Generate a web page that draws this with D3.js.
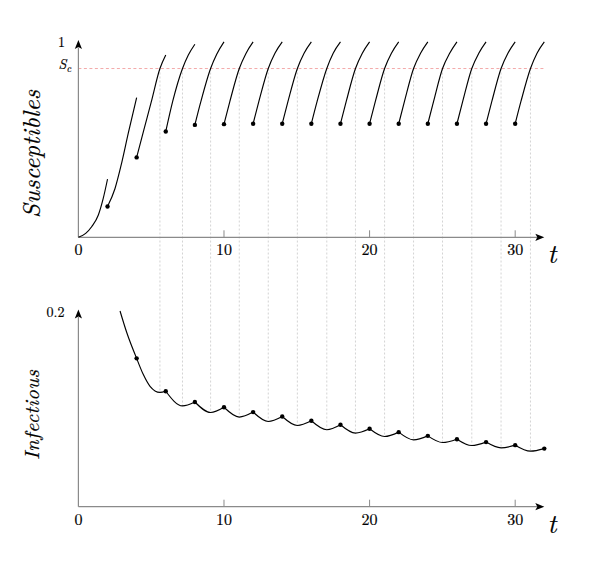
<!DOCTYPE html>
<html><head><meta charset="utf-8">
<script src="https://cdn.jsdelivr.net/npm/d3@7"></script>
<style>body{margin:0;background:#fff}svg{display:block}text{stroke:#000;stroke-width:0.2px}</style>
</head><body>
<svg id="c" width="601" height="569"></svg>
<script>
// ---------- data ----------
const xTicks = [0, 10, 20, 30];
const xMax = 32;
const sMax = 1;
const iMax = 0.2;
const Sc = 0.862;

// Susceptibles: continuous pieces between pulses, [t, S]
const sSegments = [
  [[0,0],[0.5,0.02],[0.91,0.054],[1.37,0.114],[1.71,0.2],[2,0.297]],
  [[2,0.157],[2.51,0.248],[2.97,0.379],[3.43,0.533],[4,0.713]],
  [[4,0.408],[4.5,0.55],[5,0.69],[5.6,0.862],[6,0.931]],
  [[6,0.54],[6.48,0.695],[7.15,0.862],[7.55,0.931],[8,0.986]],
  [[8,0.574],[8.4,0.69],[9.08,0.862],[9.5,0.935],[10,0.998]],
  [[10,0.578],[10.4,0.693],[11.05,0.862],[11.5,0.938],[12,0.998]],
  [[12,0.58],[12.4,0.695],[13.04,0.862],[13.5,0.94],[14,0.998]],
  [[14,0.58],[14.4,0.695],[15.04,0.862],[15.5,0.94],[16,0.998]],
  [[16,0.58],[16.4,0.695],[17.06,0.862],[17.5,0.94],[18,0.998]],
  [[18,0.58],[18.4,0.695],[19.03,0.862],[19.5,0.94],[20,0.998]],
  [[20,0.58],[20.4,0.695],[21.03,0.862],[21.5,0.94],[22,0.998]],
  [[22,0.58],[22.4,0.695],[23.02,0.862],[23.5,0.94],[24,0.998]],
  [[24,0.58],[24.4,0.695],[25.01,0.862],[25.5,0.94],[26,0.998]],
  [[26,0.58],[26.4,0.695],[27.02,0.862],[27.5,0.94],[28,0.998]],
  [[28,0.58],[28.4,0.695],[29.03,0.862],[29.5,0.94],[30,0.998]],
  [[30,0.58],[30.4,0.695],[31.05,0.862],[31.5,0.94],[32,0.998]]
];

// Infectious: values at pulse times, at minima (S = Sc) and a few extra points
const iDots = [[4,0.1516],[6,0.118],[8,0.107],[10,0.1016],[12,0.0967],[14,0.0922],
  [16,0.0878],[18,0.0837],[20,0.0796],[22,0.0762],[24,0.0724],[26,0.069],[28,0.066],
  [30,0.0629],[32,0.0594]];
const iMins = [[5.6,0.1168],[7.15,0.103],[9.08,0.0963],[11.05,0.0916],[13.04,0.0871],
  [15.04,0.083],[17.06,0.0786],[19.03,0.0752],[21.03,0.0717],[23.02,0.0683],
  [25.01,0.0656],[27.02,0.0625],[29.03,0.0601],[31.05,0.0568]];
const iExtra = [[2.86,0.2],[3.32,0.178],[4.46,0.135],[4.92,0.123]];

// ---------- drawing ----------
const svg = d3.select("#c");
svg.append("rect").attr("width",601).attr("height",569).attr("fill","#fff");

const x = d3.scaleLinear().domain([0, xMax]).range([78.4, 544.3]);
const yS = d3.scaleLinear().domain([0, sMax]).range([237.3, 41.5]);
const yI = d3.scaleLinear().domain([0, iMax]).range([506.7, 311]);

const axisColor = "#8a8a8a";
const serif = "'Latin Modern Roman','CMU Serif','Liberation Serif',serif";

// vertical guides from Sc (top) to I minima (bottom)
svg.append("g").selectAll("line").data(iMins).join("line")
  .attr("x1", d => x(d[0])).attr("x2", d => x(d[0]))
  .attr("y1", yS(Sc)).attr("y2", d => yI(d[1]))
  .attr("stroke", "#c8c8c8").attr("stroke-width", 0.8)
  .attr("stroke-dasharray", "2,2");

// Sc line
svg.append("line")
  .attr("x1", x(0)).attr("x2", x(xMax)).attr("y1", yS(Sc)).attr("y2", yS(Sc))
  .attr("stroke", "#f2a0a0").attr("stroke-width", 0.9).attr("stroke-dasharray", "3,2.5");

function drawAxes(yScale, yTop, yLabel, yLabelText, tBaseline) {
  const y0 = yScale(0);
  const g = svg.append("g");
  const xEnd = x(xMax);
  g.append("line").attr("x1", x(0)).attr("x2", xEnd - 7).attr("y1", y0).attr("y2", y0)
    .attr("stroke", axisColor).attr("stroke-width", 1.2);
  g.append("line").attr("x1", x(0)).attr("x2", x(0)).attr("y1", y0).attr("y2", yTop + 6)
    .attr("stroke", axisColor).attr("stroke-width", 1.2);
  // arrowheads
  g.append("path")
    .attr("d", `M${xEnd},${y0} L${xEnd-9},${y0-3.6} L${xEnd-7},${y0} L${xEnd-9},${y0+3.6} Z`)
    .attr("fill", "#000");
  const xa = x(0);
  g.append("path")
    .attr("d", `M${xa},${yTop-1.5} L${xa-3.6},${yTop+7.5} L${xa},${yTop+5.5} L${xa+3.6},${yTop+7.5} Z`)
    .attr("fill", "#000");
  // ticks
  g.selectAll("line.tk").data(xTicks.filter(d => d !== 0)).join("line").attr("class","tk")
    .attr("x1", d => x(d)).attr("x2", d => x(d)).attr("y1", y0).attr("y2", y0 - 7)
    .attr("stroke", axisColor).attr("stroke-width", 1);
  g.selectAll("text.tl").data(xTicks).join("text").attr("class","tl")
    .attr("x", d => x(d)).attr("y", y0 + 18)
    .attr("text-anchor", "middle").style("font-family", serif).attr("font-size", 16)
    .text(d => d);
  // t label
  g.append("text").attr("x", 552).attr("y", tBaseline).attr("text-anchor","middle")
    .style("font-family", serif).attr("font-style","italic").attr("font-size", 27).text("t");
  // y title
  g.append("text")
    .attr("transform", `translate(${yLabel.x},${yLabel.y}) rotate(-90)`)
    .attr("text-anchor","middle").style("font-family", serif).attr("font-style","italic")
    .attr("font-size", yLabel.size).attr("textLength", yLabel.len).attr("lengthAdjust","spacing")
    .text(yLabelText);
}

drawAxes(yS, yS(sMax), {x: 40, y: 154, size: 24.5, len: 128}, "Susceptibles", 263);
drawAxes(yI, yI(iMax), {x: 39, y: 415, size: 20.5, len: 90}, "Infectious", 533);

// y tick labels
svg.append("text").attr("x", 65).attr("y", yS(1) + 5.5).attr("text-anchor","end")
  .style("font-family", serif).attr("font-size", 14).text("1");
const scT = svg.append("text").attr("x", 71).attr("y", yS(Sc) + 0.5).attr("text-anchor","end")
  .style("font-family", serif).attr("font-style","italic").attr("font-size", 14);
scT.append("tspan").text("S");
scT.append("tspan").attr("font-size", 10).attr("dy", 2.5).text("c");
svg.append("text").attr("x", 64.5).attr("y", yI(iMax) + 5.5).attr("text-anchor","end")
  .style("font-family", serif).attr("font-size", 14).text("0.2");

// S curves
const lineS = d3.line().x(d => x(d[0])).y(d => yS(d[1])).curve(d3.curveMonotoneX);
svg.append("g").selectAll("path").data(sSegments).join("path")
  .attr("d", lineS).attr("fill","none").attr("stroke","#000").attr("stroke-width",1.15);
svg.append("g").selectAll("circle").data(sSegments.slice(1).map(s => s[0])).join("circle")
  .attr("cx", d => x(d[0])).attr("cy", d => yS(d[1])).attr("r", 2.2).attr("fill","#000");

// I curve, split into pieces at pulse times
const allI = iExtra.concat(iDots, iMins).sort((a,b) => a[0]-b[0]);
const dotTimes = new Set(iDots.map(d => d[0]));
const iPieces = [];
let cur = [];
allI.forEach(p => {
  cur.push(p);
  if (dotTimes.has(p[0])) { iPieces.push(cur); cur = [p]; }
});
if (cur.length > 1) iPieces.push(cur);
const lineI = d3.line().x(d => x(d[0])).y(d => yI(d[1])).curve(d3.curveMonotoneX);
svg.append("g").selectAll("path").data(iPieces).join("path")
  .attr("d", lineI).attr("fill","none").attr("stroke","#000").attr("stroke-width",1.15);
svg.append("g").selectAll("circle").data(iDots).join("circle")
  .attr("cx", d => x(d[0])).attr("cy", d => yI(d[1])).attr("r", 2.2).attr("fill","#000");
</script>
</body></html>
